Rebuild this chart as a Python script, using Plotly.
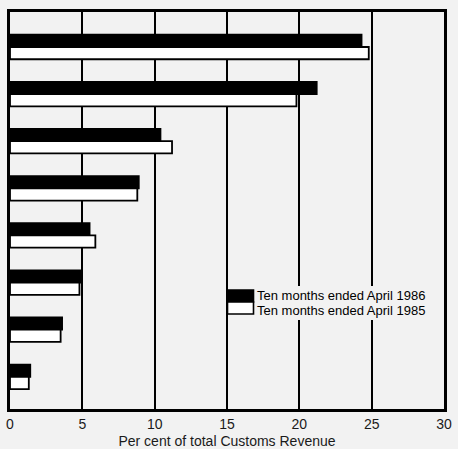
import plotly.graph_objects as go

categories = ["1", "2", "3", "4", "5", "6", "7", "8"]
share_1986 = [24.3, 21.2, 10.4, 8.9, 5.5, 4.9, 3.6, 1.4]
share_1985 = [24.8, 19.8, 11.2, 8.8, 5.9, 4.8, 3.5, 1.3]
series_names = ["Ten months ended April 1986", "Ten months ended April 1985"]
x_ticks = [0, 5, 10, 15, 20, 25, 30]
x_title = "Per cent of total Customs Revenue"

BG = "#f2f2f2"
FONT = "Liberation Sans, Arial, sans-serif"
W, H = 458, 449
ML, MR, MT, MB = 10, 14, 12, 40
PW, PH = W - ML - MR, H - MT - MB


def paper_x(px):
    return (px - ML) / PW


def paper_y(py):
    return (H - MB - py) / PH


fills = ["black", "white"]
fig = go.Figure()
for name, vals, fill in zip(series_names, [share_1986, share_1985], fills):
    fig.add_trace(go.Bar(
        y=categories, x=vals, orientation="h", name=name,
        marker=dict(color=fill, line=dict(color="black", width=1.8)),
        showlegend=False,
    ))

# legend (drawn manually to match the original's wide swatches)
shapes = [dict(
    type="rect", xref="paper", yref="paper", layer="above",
    x0=paper_x(233), x1=paper_x(441), y0=paper_y(320), y1=paper_y(286),
    fillcolor=BG, line=dict(width=0),
)]
annotations = []
row_top = [290, 302]
row_mid = [295.5, 310.5]
for i, (name, fill) in enumerate(zip(series_names, fills)):
    shapes.append(dict(
        type="rect", xref="paper", yref="paper", layer="above",
        x0=paper_x(227.5), x1=paper_x(253.5),
        y0=paper_y(row_top[i] + 12), y1=paper_y(row_top[i]),
        fillcolor=fill, line=dict(color="black", width=1.6),
    ))
    annotations.append(dict(
        xref="paper", yref="paper", x=paper_x(254.5), y=paper_y(row_mid[i]),
        xanchor="left", yanchor="middle", showarrow=False, text=name,
        font=dict(family=FONT, size=13, color="black"),
    ))

fig.update_layout(
    width=W, height=H,
    margin=dict(l=ML, r=MR, t=MT, b=MB, autoexpand=False),
    paper_bgcolor=BG, plot_bgcolor=BG,
    barmode="group", bargap=0.48, bargroupgap=0,
    font=dict(family=FONT, size=14, color="#1a1a1a"),
    showlegend=False,
    shapes=shapes,
    annotations=annotations,
    xaxis=dict(
        range=[0, 30], tickvals=x_ticks, ticktext=[str(t) for t in x_ticks],
        showgrid=True, gridcolor="black", gridwidth=2,
        showline=True, linecolor="black", linewidth=2.5, mirror=True,
        zeroline=False, ticks="", tickfont=dict(size=14), automargin=False,
        title=dict(text=x_title, font=dict(size=14), standoff=6),
    ),
    yaxis=dict(
        type="category", range=[7.684, -0.743],
        showticklabels=False, showgrid=False, ticks="",
        showline=True, linecolor="black", linewidth=2.5, mirror=True,
        zeroline=False, automargin=False,
    ),
)

fig.write_html(
    "out.html",
    config={"displayModeBar": False},
    post_script="document.body.style.margin='0';",
)
